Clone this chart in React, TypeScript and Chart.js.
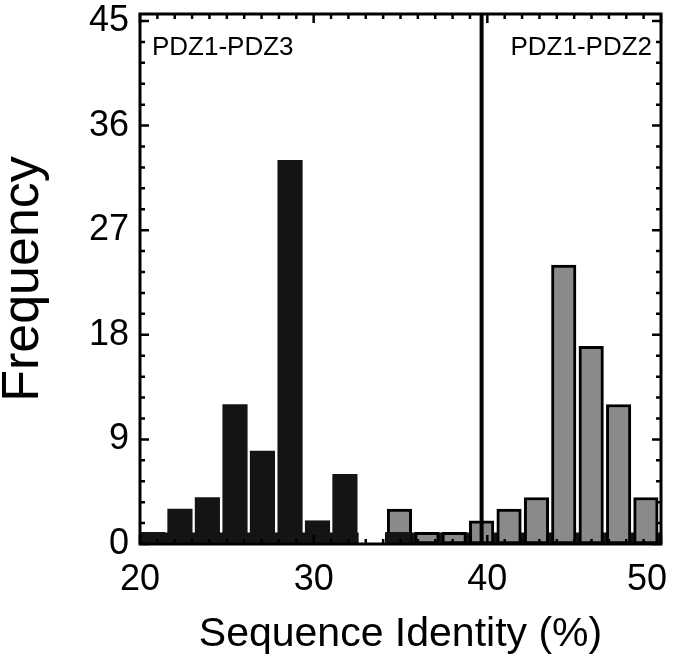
import React, { useEffect, useRef } from "react";
import { Chart, registerables } from "chart.js";

Chart.register(...registerables);

// ---- data ----
const blackBins = [20.72, 22.3, 23.88, 25.47, 27.05, 28.64, 30.22, 31.8, 34.86];
const blackCounts = [1, 3, 4, 12, 8, 33, 2, 6, 1];
const grayBins = [34.94, 36.52, 38.09, 39.67, 41.25, 42.83, 44.4, 45.98, 47.56, 49.13];
const grayCounts = [3, 1, 1, 2, 3, 4, 24, 17, 12, 4];
const bandLeft = [20, 32.6];
const bandRight = [34.1, 50];
const bandLevel = 1;
const dividerX = 39.67;
const xTickValues = [20, 30, 40, 50];
const yTickValues = [0, 9, 18, 27, 36, 45];
const yMax = 45.6;
const regionLabels = ["PDZ1-PDZ3", "PDZ1-PDZ2"];
const xTitle = "Sequence Identity (%)";
const yTitle = "Frequency";

const FONT = 'Arial, "Liberation Sans", Helvetica, sans-serif';

const framePlugin = {
  id: "frameTicks",
  afterDatasetsDraw(chart: any) {
    const { ctx, chartArea, scales } = chart;
    const { left, right, top, bottom } = chartArea;
    const xs = scales.x;
    const ys = scales.y;
    ctx.save();
    ctx.strokeStyle = "#000";
    ctx.lineWidth = 2.5;
    ctx.beginPath();
    for (let v = 20; v <= 50.001; v += 1) {
      const px = xs.getPixelForValue(v);
      const len = Math.abs(v % 10) < 0.01 ? 9 : 5;
      ctx.moveTo(px, bottom);
      ctx.lineTo(px, bottom - len);
      ctx.moveTo(px, top);
      ctx.lineTo(px, top + len);
    }
    for (let i = 0; i <= 25; i++) {
      const v = i * 1.8;
      const py = ys.getPixelForValue(v);
      const len = i % 5 === 0 ? 9 : 5;
      ctx.moveTo(left, py);
      ctx.lineTo(left + len, py);
      ctx.moveTo(right, py);
      ctx.lineTo(right - len, py);
    }
    ctx.stroke();
    ctx.lineWidth = 3;
    ctx.strokeRect(left, top, right - left, bottom - top);
    ctx.fillStyle = "#000";
    // x tick labels (kept inside the canvas like the reference)
    ctx.font = `36px ${FONT}`;
    ctx.textAlign = "center";
    ctx.textBaseline = "alphabetic";
    xTickValues.forEach((v) => {
      const label = String(v);
      const w = ctx.measureText(label).width;
      const px = Math.min(xs.getPixelForValue(v), chart.width - 11 - w / 2);
      ctx.fillText(label, px, bottom + 46);
    });
    // region labels
    ctx.font = `26px ${FONT}`;
    ctx.textAlign = "left";
    ctx.fillText(regionLabels[0], left + 12, top + 41);
    ctx.textAlign = "right";
    ctx.fillText(regionLabels[1], right - 9, top + 41);
    ctx.restore();
  },
};

export default function App() {
  const ref = useRef<HTMLCanvasElement | null>(null);

  useEffect(() => {
    if (!ref.current) return;
    const chart = new Chart(ref.current, {
      type: "bar",
      data: {
        datasets: [
          {
            type: "line",
            label: "divider",
            data: [
              { x: dividerX, y: 0 },
              { x: dividerX, y: yMax },
            ],
            borderColor: "#000",
            borderWidth: 4,
            pointRadius: 0,
            fill: false,
            order: 0,
          } as any,
          {
            label: "PDZ1-PDZ3",
            data: blackBins.map((x, i) => ({ x, y: blackCounts[i] })),
            backgroundColor: "#141414",
            borderWidth: 0,
            barThickness: 24.5,
            grouped: false,
            order: 1,
          } as any,
          {
            label: "PDZ1-PDZ2",
            data: grayBins.map((x, i) => ({ x, y: grayCounts[i] })),
            backgroundColor: "#8a8a8a",
            borderColor: "#000",
            borderWidth: 3,
            borderSkipped: false,
            barThickness: 24.5,
            grouped: false,
            order: 2,
          } as any,
          {
            type: "line",
            label: "band1",
            data: bandLeft.map((x) => ({ x, y: bandLevel })),
            borderWidth: 0,
            pointRadius: 0,
            backgroundColor: "#141414",
            fill: "origin",
            order: 3,
          } as any,
          {
            type: "line",
            label: "band2",
            data: bandRight.map((x) => ({ x, y: bandLevel })),
            borderWidth: 0,
            pointRadius: 0,
            backgroundColor: "#141414",
            fill: "origin",
            order: 3,
          } as any,
        ],
      },
      options: {
        responsive: false,
        animation: false,
        devicePixelRatio: 1,
        layout: { padding: { left: 0, right: 17, top: 14, bottom: 0 } },
        plugins: {
          legend: { display: false },
          tooltip: { enabled: false },
        },
        scales: {
          x: {
            type: "linear",
            min: 20,
            max: 50,
            offset: false,
            grid: { display: false, drawTicks: false, offset: false },
            border: { display: false },
            afterBuildTicks: (s: any) => {
              s.ticks = xTickValues.map((v) => ({ value: v }));
            },
            ticks: { display: false },
            title: {
              display: true,
              text: xTitle,
              font: { family: FONT, size: 41 },
              color: "#000",
              padding: { top: 0, bottom: 4 },
            },
            afterFit: (s: any) => {
              s.height = 119;
              s.paddingLeft = 0;
              s.paddingRight = 0;
            },
          },
          y: {
            type: "linear",
            min: 0,
            max: yMax,
            grid: { display: false, drawTicks: false },
            border: { display: false },
            afterBuildTicks: (s: any) => {
              s.ticks = yTickValues.map((v) => ({ value: v }));
            },
            ticks: {
              font: { family: FONT, size: 36 },
              color: "#000",
              padding: 11,
              autoSkip: false,
            },
            title: {
              display: true,
              text: yTitle,
              font: { family: FONT, size: 52, lineHeight: 0.92 },
              color: "#000",
              padding: { top: 0, bottom: 0 },
            },
            afterFit: (s: any) => {
              s.width = 140;
              s.paddingTop = 0;
              s.paddingBottom = 0;
            },
          },
        },
      } as any,
      plugins: [framePlugin],
    });
    return () => chart.destroy();
  }, []);

  return (
    <div style={{ position: "fixed", left: 0, top: 0, width: 678, height: 663, background: "#fff" }}>
      <canvas ref={ref} width={678} height={663} style={{ display: "block" }} />
    </div>
  );
}
